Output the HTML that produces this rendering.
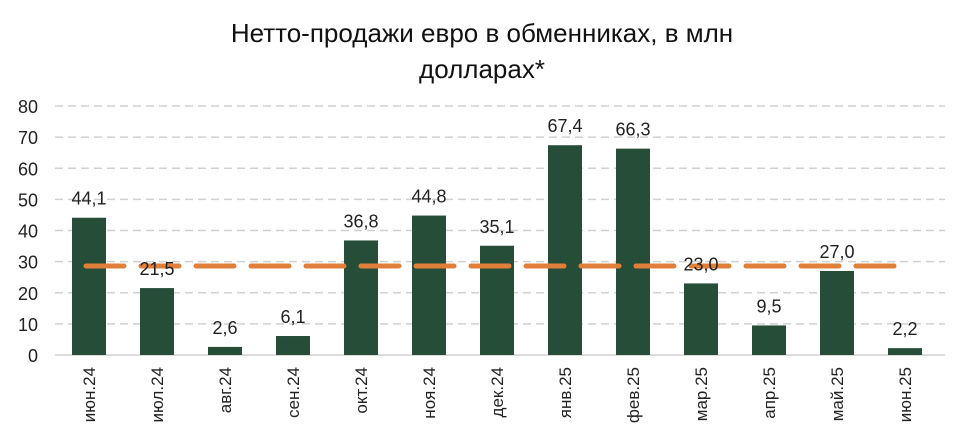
<!DOCTYPE html>
<html><head><meta charset="utf-8"><style>
body{margin:0;background:#fff;}
svg{display:block;font-family:"Liberation Sans","DejaVu Sans",sans-serif;}
</style></head><body>
<svg id="c" width="964" height="448">
<text x="482" y="42" text-anchor="middle" font-size="26" fill="#111">Нетто-продажи евро в обменниках, в млн</text>
<text x="482" y="78" text-anchor="middle" font-size="26" fill="#111">долларах*</text>
<g id="grid"></g><g id="bars"></g><g id="avg"></g><g id="labels"></g>
</svg>
<script>
const categories=["июн.24","июл.24","авг.24","сен.24","окт.24","ноя.24","дек.24","янв.25","фев.25","мар.25","апр.25","май.25","июн.25"];
const values=[44.1,21.5,2.6,6.1,36.8,44.8,35.1,67.4,66.3,23.0,9.5,27.0,2.2];
const avgValue=28.6;
const yTicks=[0,10,20,30,40,50,60,70,80];
const NS="http://www.w3.org/2000/svg";
const y0=355,yTop=106,yMax=80,left=55,step=68,bw=34;
const y=v=>y0-(v/yMax)*(y0-yTop);
const xc=i=>89+i*step;
function mk(t,a,p){const e=document.createElementNS(NS,t);for(const k in a)e.setAttribute(k,a[k]);p.appendChild(e);return e;}
const grid=document.getElementById('grid'),bars=document.getElementById('bars'),avg=document.getElementById('avg'),labels=document.getElementById('labels');
yTicks.forEach(t=>{
  const l=mk('line',{x1:left,x2:945,y1:y(t),y2:y(t),stroke:'#d0d0d0','stroke-width':1.5,'stroke-dasharray':t===0?'none':'8 5'},grid);
  
  
  const tx=mk('text',{x:38,y:y(t)+7,'text-anchor':'end','font-size':18,fill:'#222'},grid);
  tx.textContent=t;
  
  
});
values.forEach((v,i)=>{
  const r=mk('rect',{x:xc(i)-bw/2,y:y(v),width:bw,height:y0-y(v),fill:'#264d38'},bars);
  
  
  const lt=mk('text',{x:xc(i),y:y(v)-13,'text-anchor':'middle','font-size':18,fill:'#222'},labels);
  lt.textContent=v.toFixed(1).replace('.',',');
  
  
  const ct=mk('text',{x:0,y:0,'text-anchor':'end','font-size':17,fill:'#222',transform:`translate(${xc(i)+6},367) rotate(-90)`},labels);
  ct.textContent=categories[i];
  
  
});
const al=mk('line',{x1:xc(0)-3,x2:xc(categories.length-1)-10,y1:y(avgValue),y2:y(avgValue),stroke:'#e07f3a','stroke-width':5,'stroke-dasharray':'38 17','stroke-linecap':'round'},avg);


</script>
</body></html>
